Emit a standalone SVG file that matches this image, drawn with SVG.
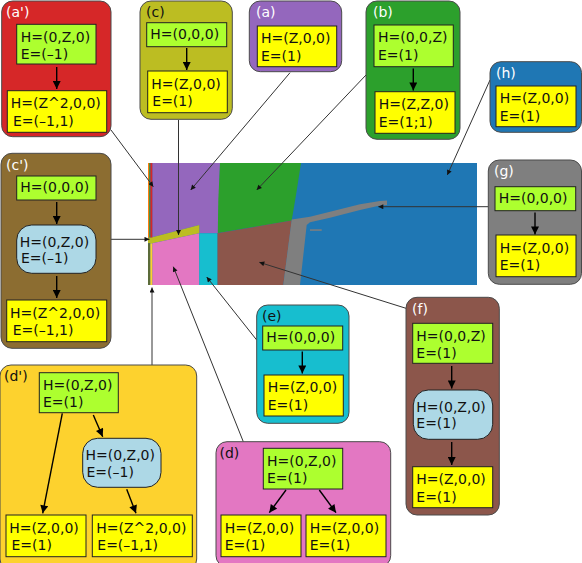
<svg xmlns="http://www.w3.org/2000/svg" width="582" height="563" viewBox="0 0 582 563">
<defs>
<marker id="ah" viewBox="0 0 10 10" refX="10" refY="5" markerWidth="7" markerHeight="5" markerUnits="userSpaceOnUse" orient="auto"><path d="M0,0 L10,5 L0,10 z" fill="#111"/></marker>
<marker id="ai" viewBox="0 0 10 10" refX="10" refY="5" markerWidth="10" markerHeight="8" markerUnits="userSpaceOnUse" orient="auto"><path d="M0,0 L10,5 L0,10 z" fill="#000"/></marker>
<style>
text{font-family:"DejaVu Sans",sans-serif;font-size:14px;fill:#111}
.lw{fill:#fff}
.panel{stroke:#4a4a4a;stroke-width:1}
.g{fill:#adff2f;stroke:#222;stroke-width:1}
.y{fill:#ffff00;stroke:#222;stroke-width:1}
.b{fill:#add8e6;stroke:#222;stroke-width:1}
.ia{stroke:#000;stroke-width:1.4;fill:none;marker-end:url(#ai)}
.ca{stroke:#333;stroke-width:1;fill:none;marker-end:url(#ah)}
</style>
</defs>

<g id="map">
<rect x="148" y="163" width="329" height="122" fill="#1f77b4"/>
<polygon points="152.3,163 220,163 218.3,233.3 199.3,233.3 199.3,225 152.3,237.3" fill="#9467bd"/>
<polygon points="220,163 301,163 296,195 291.7,220.5 217.8,233 218.3,200" fill="#2ca02c"/>
<polygon points="217.3,233.3 291.7,220.5 283.3,285 217.3,285" fill="#8c564b"/>
<polygon points="291.7,219.5 310,216.7 330,211.7 360,204.3 380,201 387,200.5 387,205 380,205.5 360,210 330,217.7 310,222.3 306.7,225 300,285 283.3,285" fill="#7f7f7f"/>
<rect x="310" y="229.3" width="11.7" height="1.5" fill="#7f7f7f"/>
<polygon points="148,237.5 152.3,237.3 199.3,225 199.3,233.3 152.3,243.3 148,243.3" fill="#bcbd22"/>
<polygon points="152.3,243.3 199.3,233.3 199.3,285 152.3,285" fill="#e377c2"/>
<rect x="199.3" y="233.3" width="18" height="51.7" fill="#17becf"/>
<rect x="148" y="163" width="1.4" height="74.5" fill="#ff7f0e"/>
<rect x="149.4" y="163" width="1" height="74.5" fill="#2ca02c"/>
<rect x="150.4" y="163" width="1.9" height="74.5" fill="#d62728"/>
<rect x="148" y="243.3" width="2.3" height="41.7" fill="#5b6b3a"/>
<rect x="150.3" y="243.3" width="2" height="41.7" fill="#fdd22e"/>
</g>

<g id="connectors">
<line class="ca" x1="111" y1="130" x2="153.3" y2="186.7"/>
<line class="ca" x1="178.5" y1="120" x2="178.5" y2="235"/>
<line class="ca" x1="290" y1="72.7" x2="190.7" y2="190"/>
<line class="ca" x1="366" y1="75" x2="256.7" y2="190"/>
<line class="ca" x1="490" y1="80" x2="447.3" y2="175"/>
<line class="ca" x1="488.3" y1="206.7" x2="378.3" y2="206.7"/>
<line class="ca" x1="111" y1="239.3" x2="149.5" y2="239.3"/>
<line class="ca" x1="406" y1="308.3" x2="259.3" y2="262.3"/>
<line class="ca" x1="256.7" y1="340" x2="206.7" y2="277"/>
<line class="ca" x1="243.3" y1="441.7" x2="173.3" y2="266.7"/>
<line class="ca" x1="152" y1="365" x2="152" y2="287.5"/>
</g>

<g id="panel-a-prime">
<rect class="panel" x="1.7" y="1" width="109.3" height="135.7" rx="11" fill="#d62728"/>
<text class="lw" x="6" y="16.7">(a')</text>
<rect class="g" x="16.7" y="24.3" width="79.3" height="39.7"/>
<text x="20.7" y="41.7">H=(0,Z,0)</text>
<text x="20.7" y="59.3">E=(–1)</text>
<line class="ia" x1="56.7" y1="67" x2="56.7" y2="89"/>
<rect class="y" x="7.3" y="90.7" width="99.4" height="41.6"/>
<text x="10.7" y="108">H=(Z^2,0,0)</text>
<text x="13" y="125.7">E=(–1,1)</text>
</g>

<g id="panel-c">
<rect class="panel" x="140" y="1" width="92.3" height="118.3" rx="11" fill="#bcbd22"/>
<text x="146" y="16.7">(c)</text>
<rect class="g" x="146.7" y="22.7" width="80" height="24"/>
<text x="150.3" y="38.8">H=(0,0,0)</text>
<line class="ia" x1="186.7" y1="48" x2="186.7" y2="70"/>
<rect class="y" x="147.7" y="71" width="79.6" height="41.7"/>
<text x="151.3" y="88.7">H=(Z,0,0)</text>
<text x="152.3" y="106.3">E=(1)</text>
</g>

<g id="panel-a">
<rect class="panel" x="249.3" y="1" width="92.4" height="70.7" rx="11" fill="#9467bd"/>
<text class="lw" x="256" y="16.7">(a)</text>
<rect class="y" x="257.3" y="26" width="79.4" height="40.7"/>
<text x="261" y="43.3">H=(Z,0,0)</text>
<text x="261" y="61">E=(1)</text>
</g>

<g id="panel-b">
<rect class="panel" x="366" y="1" width="94" height="138.3" rx="11" fill="#2ca02c"/>
<text class="lw" x="373" y="16.7">(b)</text>
<rect class="g" x="374" y="25" width="79.3" height="41.7"/>
<text x="378" y="42.3">H=(0,0,Z)</text>
<text x="378" y="60">E=(1)</text>
<line class="ia" x1="413.3" y1="68.5" x2="413.3" y2="90.5"/>
<rect class="y" x="375" y="91.7" width="80" height="41.6"/>
<text x="378.7" y="109.3">H=(Z,Z,0)</text>
<text x="378.7" y="127">E=(1;1)</text>
</g>

<g id="panel-h">
<rect class="panel" x="490" y="61.7" width="91.5" height="70.6" rx="11" fill="#1f77b4"/>
<text class="lw" x="496" y="78">(h)</text>
<rect class="y" x="496" y="86" width="80" height="40.7"/>
<text x="499.7" y="103.3">H=(Z,0,0)</text>
<text x="499.7" y="121">E=(1)</text>
</g>

<g id="panel-c-prime">
<rect class="panel" x="1" y="153.3" width="110" height="195" rx="11" fill="#8c6d31"/>
<text class="lw" x="6" y="170">(c')</text>
<rect class="g" x="16.7" y="176" width="79.3" height="24"/>
<text x="20.3" y="192.2">H=(0,0,0)</text>
<line class="ia" x1="56.7" y1="202" x2="56.7" y2="224"/>
<rect class="b" x="16.7" y="225" width="79.3" height="48.3" rx="15"/>
<text x="19.7" y="246.7">H=(0,Z,0)</text>
<text x="21" y="263.3">E=(–1)</text>
<line class="ia" x1="56.7" y1="276" x2="56.7" y2="298"/>
<rect class="y" x="6.7" y="300" width="100" height="41.7"/>
<text x="10" y="317.5">H=(Z^2,0,0)</text>
<text x="12.7" y="335">E=(–1,1)</text>
</g>

<g id="panel-g">
<rect class="panel" x="488.3" y="160" width="93.2" height="124.3" rx="11" fill="#7f7f7f"/>
<text class="lw" x="494" y="176">(g)</text>
<rect class="g" x="495" y="186.7" width="80.7" height="24"/>
<text x="498.7" y="203">H=(0,0,0)</text>
<line class="ia" x1="535" y1="212.5" x2="535" y2="234.5"/>
<rect class="y" x="496" y="235" width="80" height="41.7"/>
<text x="499.7" y="252.5">H=(Z,0,0)</text>
<text x="499.7" y="270">E=(1)</text>
</g>

<g id="panel-f">
<rect class="panel" x="406" y="297.3" width="93.3" height="217.7" rx="11" fill="#8c564b"/>
<text class="lw" x="412" y="314">(f)</text>
<rect class="g" x="412.7" y="323.3" width="80" height="40"/>
<text x="416.3" y="340.5">H=(0,0,Z)</text>
<text x="416.3" y="357.8">E=(1)</text>
<line class="ia" x1="451.7" y1="366" x2="451.7" y2="388.5"/>
<rect class="b" x="413.3" y="390" width="79.4" height="49.3" rx="15"/>
<text x="416.3" y="411.7">H=(0,Z,0)</text>
<text x="416.3" y="428.3">E=(1)</text>
<line class="ia" x1="451.7" y1="442" x2="451.7" y2="465"/>
<rect class="y" x="412.7" y="466.7" width="80" height="41"/>
<text x="416.3" y="484">H=(Z,0,0)</text>
<text x="416.3" y="501.7">E=(1)</text>
</g>

<g id="panel-e">
<rect class="panel" x="256.7" y="305" width="92.3" height="118.3" rx="11" fill="#17becf"/>
<text x="262" y="321">(e)</text>
<rect class="g" x="262.7" y="326" width="80" height="24"/>
<text x="266.3" y="342.2">H=(0,0,0)</text>
<line class="ia" x1="302.3" y1="351.5" x2="302.3" y2="373.5"/>
<rect class="y" x="264" y="375" width="79.3" height="41"/>
<text x="267.7" y="392.3">H=(Z,0,0)</text>
<text x="267.7" y="410">E=(1)</text>
</g>

<g id="panel-d">
<rect class="panel" x="216" y="441.7" width="174.7" height="125" rx="11" fill="#e377c2"/>
<text x="219.5" y="457.5">(d)</text>
<rect class="g" x="263.3" y="448.3" width="79.4" height="40.7"/>
<text x="267" y="465.7">H=(0,Z,0)</text>
<text x="267" y="483.3">E=(1)</text>
<line class="ia" x1="286" y1="490" x2="269.3" y2="512.7"/>
<line class="ia" x1="319.3" y1="490" x2="336" y2="512.7"/>
<rect class="y" x="221" y="515" width="80" height="41.7"/>
<text x="224.7" y="532.5">H=(Z,0,0)</text>
<text x="224.7" y="550">E=(1)</text>
<rect class="y" x="306" y="515" width="80" height="41.7"/>
<text x="309.7" y="532.5">H=(Z,0,0)</text>
<text x="309.7" y="550">E=(1)</text>
</g>

<g id="panel-d-prime">
<rect class="panel" x="0" y="365" width="196.7" height="205" rx="11" fill="#fdd22e"/>
<text x="4" y="381">(d')</text>
<rect class="g" x="39.3" y="372.7" width="79" height="40"/>
<text x="43" y="389.5">H=(0,Z,0)</text>
<text x="43" y="406.5">E=(1)</text>
<line class="ia" x1="62.3" y1="413.3" x2="42.7" y2="513.3"/>
<line class="ia" x1="93.3" y1="415" x2="102.7" y2="436.7"/>
<rect class="b" x="82.7" y="438.3" width="78.3" height="49" rx="15"/>
<text x="85.5" y="460">H=(0,Z,0)</text>
<text x="86.5" y="476.7">E=(–1)</text>
<line class="ia" x1="126.7" y1="489.3" x2="136" y2="513.3"/>
<rect class="y" x="6" y="515" width="80" height="41.7"/>
<text x="9.3" y="532.5">H=(Z,0,0)</text>
<text x="11.5" y="550">E=(1)</text>
<rect class="y" x="92.3" y="515" width="100" height="41.7"/>
<text x="96.3" y="532.5">H=(Z^2,0,0)</text>
<text x="97.3" y="550">E=(–1,1)</text>
</g>
</svg>
